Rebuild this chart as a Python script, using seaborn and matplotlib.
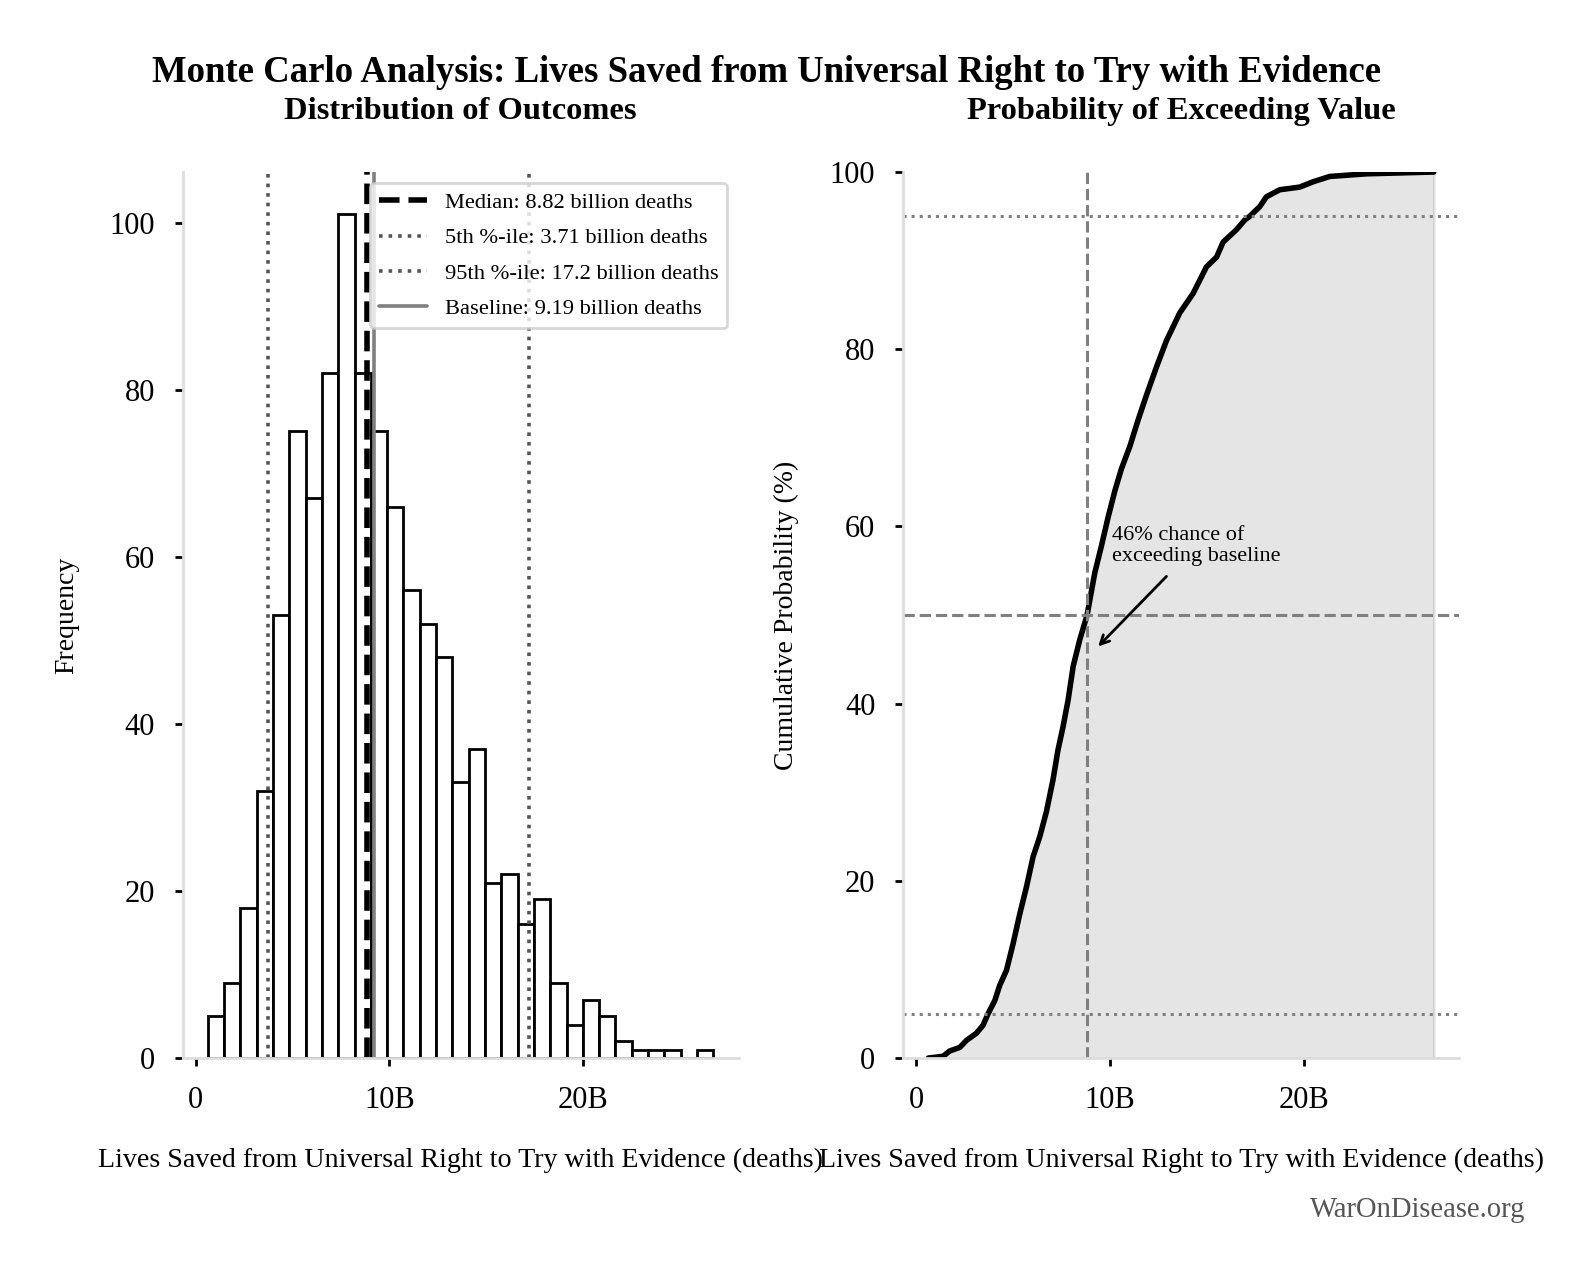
import numpy as np
import pandas as pd
import matplotlib
matplotlib.use("Agg")
import matplotlib.pyplot as plt
from matplotlib.ticker import FuncFormatter
import seaborn as sns

# histogram counts per bin (31 equal bins between the sample min and max, billions)
hist_counts = [5, 9, 18, 32, 53, 75, 67, 82, 101, 82, 75, 66, 56, 52, 48,
               33, 37, 21, 22, 16, 19, 9, 4, 7, 5, 2, 1, 1, 1, 0, 1]
sample_min = 0.63
sample_max = 26.71

# cumulative curve (billions, percent)
cdf_x = [0.63, 1.39, 1.73, 2.25, 2.60, 3.11, 3.45, 3.71, 4.06, 4.31, 4.66,
         5.00, 5.35, 5.69, 6.03, 6.38, 6.72, 7.06, 7.32, 7.58, 7.84, 8.10,
         8.44, 8.82, 9.22, 9.56, 9.90, 10.25, 10.59, 11.02, 11.45, 11.88,
         12.40, 12.92, 13.60, 14.29, 14.98, 15.50, 15.84, 16.53, 16.96,
         17.21, 17.73, 18.07, 18.76, 19.79, 20.48, 21.34, 23.24, 26.71]
cdf_pct = [0.0, 0.2, 0.8, 1.2, 2.0, 2.8, 3.7, 5.0, 6.5, 8.2, 9.9,
           12.9, 16.3, 19.3, 22.7, 25.0, 27.8, 31.4, 34.8, 37.4, 40.4, 44.2,
           47.2, 50.0, 54.8, 57.8, 61.0, 64.0, 66.5, 69.0, 72.0, 74.8,
           78.0, 81.0, 84.1, 86.3, 89.3, 90.4, 92.1, 93.5, 94.6,
           95.0, 96.1, 97.2, 98.0, 98.3, 98.9, 99.5, 99.8, 100.0]

median_val = 8.82
p5_val = 3.71
p95_val = 17.2
baseline_val = 9.19
exceed_pct = 46

xlabel = "Lives Saved from Universal Right to Try with Evidence (deaths)"

sns.set_style("ticks")
plt.rcParams['font.family'] = ['Liberation Serif', 'DejaVu Serif']
for key in ('text.color', 'axes.labelcolor', 'xtick.color', 'ytick.color'):
    plt.rcParams[key] = 'black'

edges = np.linspace(sample_min, sample_max, len(hist_counts) + 1)
hist_df = pd.DataFrame({'value': (edges[:-1] + edges[1:]) / 2, 'count': hist_counts})

fig, (ax1, ax2) = plt.subplots(1, 2, figsize=(7.91, 6.4), dpi=200)
plt.subplots_adjust(left=0.1154, right=0.9223, bottom=0.1734, top=0.8656, wspace=0.296)

# left: histogram
sns.histplot(data=hist_df, x='value', weights='count', bins=list(edges), ax=ax1,
             color='white', edgecolor='black', linewidth=1.0, alpha=1)
ax1.axvline(median_val, color='black', ls='--', lw=2.0,
            label=f"Median: {median_val} billion deaths")
ax1.axvline(p5_val, color='#555555', ls=':', lw=1.3,
            label=f"5th %-ile: {p5_val} billion deaths")
ax1.axvline(p95_val, color='#555555', ls=':', lw=1.3,
            label=f"95th %-ile: {p95_val} billion deaths")
ax1.axvline(baseline_val, color='gray', ls='-', lw=1.3,
            label=f"Baseline: {baseline_val} billion deaths")
leg = ax1.legend(loc='upper right', fontsize=8.1, edgecolor='#cccccc', framealpha=0.8,
                 labelspacing=0.65, handlelength=2.1)
ax1.set_title("Distribution of Outcomes", fontsize=11.7, fontweight='bold', pad=19)
ax1.set_ylabel("Frequency", fontsize=10, labelpad=11)

# right: cumulative curve
ax2.fill_between(cdf_x, cdf_pct, color='gray', alpha=0.2)
sns.lineplot(x=cdf_x, y=cdf_pct, color='black', lw=2.0, ax=ax2)
ax2.axvline(median_val, color='gray', ls='--', lw=1.1)
ax2.axhline(50, color='gray', ls='--', lw=1.1)
ax2.axhline(5, color='gray', ls=':', lw=1.1)
ax2.axhline(95, color='gray', ls=':', lw=1.1)
ax2.set_ylim(0, 100)
ax2.annotate(f"{exceed_pct}% chance of\nexceeding baseline",
             xy=(baseline_val, exceed_pct), xytext=(10.1, 57.8),
             ha='left', va='center', fontsize=8,
             arrowprops=dict(arrowstyle='->', color='black', lw=1.0))
ax2.set_title("Probability of Exceeding Value", fontsize=11.7, fontweight='bold', pad=19)
ax2.set_ylabel("Cumulative Probability (%)", fontsize=10, labelpad=11)

fmt = FuncFormatter(lambda v, p: "0" if v == 0 else f"{v:.0f}B")
for ax in (ax1, ax2):
    ax.set_xticks([0, 10, 20])
    ax.xaxis.set_major_formatter(fmt)
    ax.set_xlabel(xlabel, fontsize=10.1, labelpad=12)
    ax.tick_params(axis='both', labelsize=11, length=3, width=1, color='black', pad=7)
    sns.despine(ax=ax)
    for s in ('left', 'bottom'):
        ax.spines[s].set_color('#dddddd')
        ax.spines[s].set_linewidth(1.0)

fig.suptitle("Monte Carlo Analysis: Lives Saved from Universal Right to Try with Evidence",
             fontsize=13.25, fontweight='bold', x=0.4843, y=0.957)
fig.text(0.964, 0.055, "WarOnDisease.org", ha='right', va='center',
         fontsize=10.3, color='#555555')

fig.savefig("out.png", dpi=200)
